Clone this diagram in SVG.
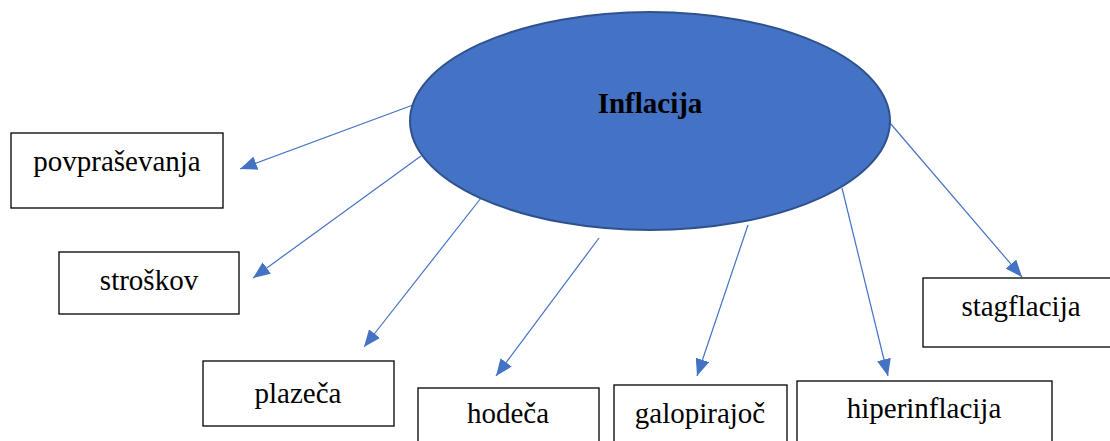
<svg xmlns="http://www.w3.org/2000/svg" width="1110" height="441" viewBox="0 0 1110 441">
<style>
.box{fill:#fff;stroke:#000;stroke-width:1.3}
.lbl{font-size:29px;fill:#000;text-anchor:middle}
.conn{stroke:#4472C4;stroke-width:1.2;fill:none;marker-end:url(#ah)}
</style>
<defs>
<marker id="ah" markerUnits="userSpaceOnUse" markerWidth="18" markerHeight="14" viewBox="0 0 18 14" refX="17" refY="7" orient="auto">
<path d="M0,0 L17,7 L0,14 Z" fill="#4472C4"/>
</marker>
</defs>
<g id="connectors">
<line class="conn" x1="413" y1="105" x2="240" y2="169"/>
<line class="conn" x1="421" y1="156" x2="253" y2="278"/>
<line class="conn" x1="481" y1="198" x2="364" y2="347"/>
<line class="conn" x1="599" y1="238" x2="496" y2="376"/>
<line class="conn" x1="748" y1="225" x2="697" y2="376"/>
<line class="conn" x1="842" y1="188" x2="888" y2="376"/>
<line class="conn" x1="890" y1="123" x2="1022" y2="277"/>
</g>
<g id="inflacija">
<ellipse cx="650" cy="121" rx="240" ry="109" fill="#4472C4" stroke="#2F528F" stroke-width="2"/>
<text x="650" y="113" font-family="'Liberation Serif', 'Times New Roman', serif" font-size="29" font-weight="bold" text-anchor="middle">Inflacija</text>
</g>
<g font-family="'Liberation Serif', 'Times New Roman', serif">
<g id="povprasevanja">
<rect class="box" x="11" y="133" width="212" height="75"/>
<text class="lbl" x="117" y="171">povpraševanja</text>
</g>
<g id="stroskov">
<rect class="box" x="59" y="252" width="180" height="62"/>
<text class="lbl" x="149" y="290">stroškov</text>
</g>
<g id="plazeca">
<rect class="box" x="203" y="361" width="191" height="65"/>
<text class="lbl" x="298" y="403">plazeča</text>
</g>
<g id="hodeca">
<rect class="box" x="418" y="388" width="181" height="70"/>
<text class="lbl" x="508" y="423">hodeča</text>
</g>
<g id="galopirajoc">
<rect class="box" x="614" y="385" width="173" height="70"/>
<text class="lbl" x="700" y="423">galopirajoč</text>
</g>
<g id="hiperinflacija">
<rect class="box" x="797" y="381" width="255" height="75"/>
<text class="lbl" x="924" y="418">hiperinflacija</text>
</g>
<g id="stagflacija">
<rect class="box" x="923" y="278" width="195" height="69"/>
<text class="lbl" x="1021" y="316">stagflacija</text>
</g>
</g>
</svg>
